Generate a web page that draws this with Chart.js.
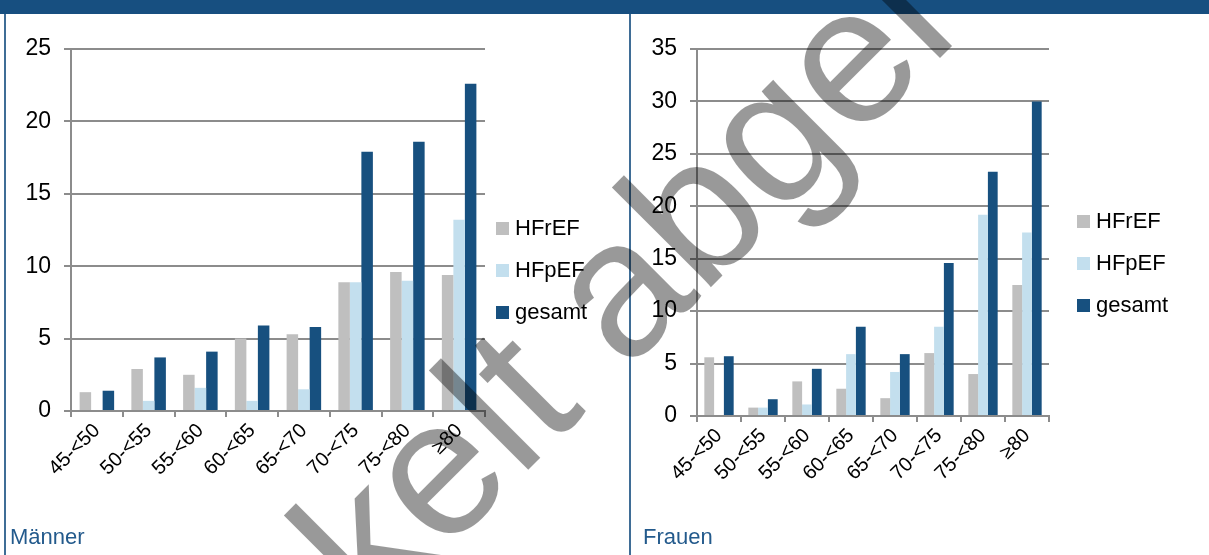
<!DOCTYPE html>
<html>
<head>
<meta charset="utf-8">
<script src="https://cdn.jsdelivr.net/npm/chart.js@4.4.1/dist/chart.umd.min.js"></script>
<style>
  body { margin: 0; width: 1209px; height: 555px; overflow: hidden; background: #fff; position: relative; font-family: "Liberation Sans", Arial, sans-serif; }
  #header { position: absolute; left: 0; top: 0; width: 1209px; height: 14px; background: #174f80; }
  .frame { position: absolute; top: 14px; height: 541px; width: 2px; background: #3f6d96; }
  canvas { position: absolute; top: 15px; }
  .legend { position: absolute; font-size: 22px; color: #000; }
  .legend div { height: 42px; display: flex; align-items: center; }
  .legend span.box { width: 13px; height: 13px; margin-right: 6px; display: inline-block; }
  .panelTitle { position: absolute; top: 524px; font-size: 22px; line-height: 26px; color: #235a8c; }
  #watermark { position: absolute; left: 374px; top: 624px; font-size: 194px; line-height: 194px; white-space: nowrap; color: rgba(0, 0, 0, 0.4); transform-origin: 0 0; transform: rotate(-45deg) translateY(-164px); pointer-events: none; }
</style>
</head>
<body>
<div id="header"></div>
<div class="frame" style="left:4px"></div>
<div class="frame" style="left:629px"></div>

<canvas id="menChart" width="624" height="540" style="left:6px"></canvas>
<canvas id="womenChart" width="577" height="540" style="left:632px"></canvas>

<div class="legend" id="menLegend" style="left:496px; top:207px"></div>
<div class="legend" id="womenLegend" style="left:1077px; top:200px"></div>

<div class="panelTitle" style="left:10px">Männer</div>
<div class="panelTitle" style="left:643px">Frauen</div>

<div id="watermark">kelt abgel</div>

<script>
// age groups and series
const ageGroups = ["45-<50", "50-<55", "55-<60", "60-<65", "65-<70", "70-<75", "75-<80", "≥80"];
const seriesNames = ["HFrEF", "HFpEF", "gesamt"];
const seriesColors = ["#bfbfbf", "#c3dfee", "#17507f"];

// Männer (%)
const menHFrEF = [1.3, 2.9, 2.5, 5.0, 5.3, 8.9, 9.6, 9.4];
const menHFpEF = [0, 0.7, 1.6, 0.7, 1.5, 8.9, 9.0, 13.2];
const menTotal = [1.4, 3.7, 4.1, 5.9, 5.8, 17.9, 18.6, 22.6];
const menYMax = 25;

// Frauen (%)
const womenHFrEF = [5.6, 0.8, 3.3, 2.6, 1.7, 6.0, 4.0, 12.5];
const womenHFpEF = [0, 0.8, 1.1, 5.9, 4.2, 8.5, 19.2, 17.5];
const womenTotal = [5.7, 1.6, 4.5, 8.5, 5.9, 14.6, 23.3, 30.0];
const womenYMax = 35;

const yStep = 5;
const axisGrey = "#8c8c8c";
const fontFamily = '"Liberation Sans", Arial, sans-serif';

function makeChart(id, values, yMax, rightPad, xHeight) {
  const ctx = document.getElementById(id).getContext("2d");
  return new Chart(ctx, {
    type: "bar",
    data: {
      labels: ageGroups,
      datasets: values.map((v, i) => ({
        label: seriesNames[i],
        data: v,
        backgroundColor: seriesColors[i],
        borderWidth: 0,
        categoryPercentage: 0.667,
        barPercentage: 1.0,
      })),
    },
    options: {
      responsive: false,
      animation: false,
      layout: { padding: { left: 0, top: 34, right: rightPad, bottom: 0 } },
      plugins: { legend: { display: false }, tooltip: { enabled: false } },
      scales: {
        x: {
          grid: { drawOnChartArea: false, color: axisGrey, lineWidth: 2, tickLength: 6, offset: true },
          border: { color: axisGrey, width: 2 },
          ticks: { minRotation: 45, maxRotation: 45, color: "#000", padding: 2, font: { size: 20, family: fontFamily } },
          afterFit: (s) => { s.height = xHeight; },
        },
        y: {
          min: 0,
          max: yMax,
          ticks: { stepSize: yStep, color: "#000", padding: 13, font: { size: 23, family: fontFamily } },
          grid: { color: axisGrey, lineWidth: 2, tickLength: 7 },
          border: { color: axisGrey, width: 2 },
          afterFit: (s) => { s.width = 65; },
        },
      },
    },
  });
}

function makeLegend(id) {
  const el = document.getElementById(id);
  seriesNames.forEach((name, i) => {
    const row = document.createElement("div");
    row.innerHTML = '<span class="box" style="background:' + seriesColors[i] + '"></span>' + name;
    el.appendChild(row);
  });
}

makeChart("menChart", [menHFrEF, menHFpEF, menTotal], menYMax, 145, 144);
makeChart("womenChart", [womenHFrEF, womenHFpEF, womenTotal], womenYMax, 160, 139);
makeLegend("menLegend");
makeLegend("womenLegend");
</script>
</body>
</html>
